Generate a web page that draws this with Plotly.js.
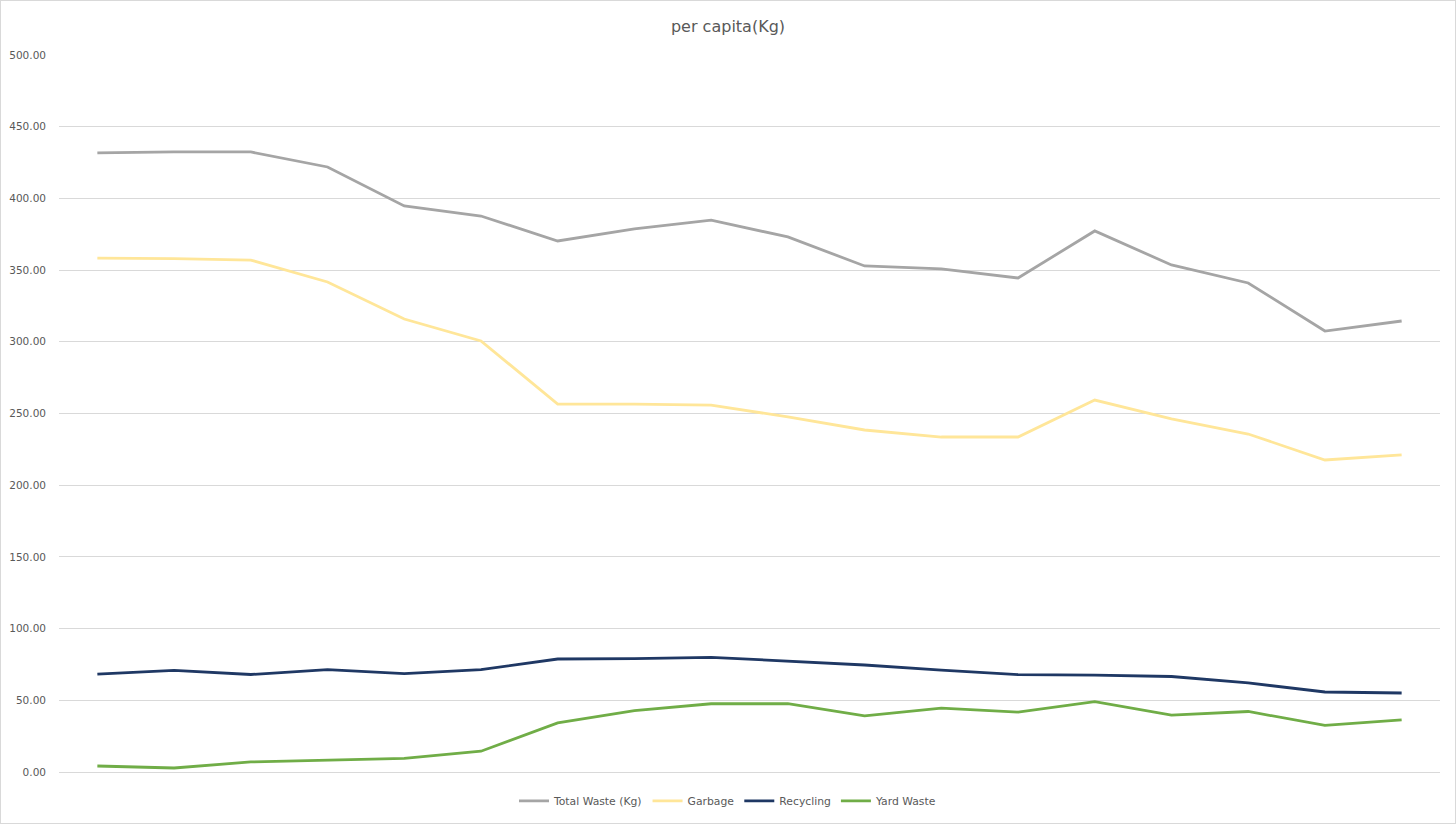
<!DOCTYPE html>
<html>
<head>
<meta charset="utf-8">
<script src="https://cdn.plot.ly/plotly-3.0.1.min.js"></script>
<style>
  html, body { margin: 0; padding: 0; background: #fff; }
  #chart { width: 1454px; height: 822px; border: 1px solid #d9d9d9; }
</style>
</head>
<body>
<div id="chart"></div>
<script>
// per capita waste, one value per period (no axis labels in the source)
const periods = [1, 2, 3, 4, 5, 6, 7, 8, 9, 10, 11, 12, 13, 14, 15, 16, 17, 18];
const totalWaste = [431.7, 432.4, 432.4, 421.9, 394.7, 387.7, 370.3, 378.7, 384.9, 373.1, 352.9, 350.8, 344.5, 377.3, 353.6, 341.0, 307.5, 314.5];
const garbage = [358.4, 358.0, 357.0, 341.7, 315.9, 300.6, 256.6, 256.6, 255.9, 247.6, 238.5, 233.6, 233.6, 259.4, 246.2, 235.7, 217.6, 221.1];
const recycling = [68.3, 70.8, 68.0, 71.4, 68.6, 71.4, 78.8, 79.0, 80.0, 77.4, 74.6, 71.1, 67.9, 67.6, 66.6, 62.1, 55.8, 55.1];
const yardWaste = [4.2, 2.8, 7.0, 8.0, 9.5, 14.5, 34.2, 42.8, 47.6, 47.6, 39.1, 44.6, 41.8, 49.1, 39.7, 42.2, 32.5, 36.3];

function line(name, ys, color) {
  return {
    x: periods,
    y: ys,
    name: name,
    type: "scatter",
    mode: "lines",
    line: { color: color, width: 2.8 },
  };
}

const data = [
  line("Total Waste (Kg)", totalWaste, "#a5a5a5"),
  line("Garbage", garbage, "#ffe699"),
  line("Recycling", recycling, "#1f3864"),
  line("Yard Waste", yardWaste, "#70ad47"),
];

const layout = {
  width: 1454,
  height: 822,
  paper_bgcolor: "#fff",
  plot_bgcolor: "#fff",
  font: { family: "DejaVu Sans, sans-serif", size: 10.5, color: "#595959" },
  margin: { l: 58, r: 15, t: 54, b: 51 },
  title: {
    text: "per capita(Kg)",
    font: { size: 16, color: "#595959" },
    x: 0.5,
    xanchor: "center",
    y: 0.969,
    yanchor: "middle",
  },
  xaxis: {
    range: [0.5, 18.5],
    showticklabels: false,
    showgrid: false,
    zeroline: false,
    showline: true,
    linecolor: "#d9d9d9",
    ticks: "",
    fixedrange: true,
  },
  yaxis: {
    range: [0, 500],
    dtick: 50,
    tickformat: ".2f",
    gridcolor: "#d9d9d9",
    zeroline: false,
    showline: false,
    ticks: "",
    ticklabelstandoff: 12,
  },
  showlegend: true,
  legend: {
    orientation: "h",
    x: 0.5,
    xanchor: "center",
    xref: "container",
    y: 0.027,
    yanchor: "middle",
    yref: "container",
    font: { size: 10.8, color: "#595959" },
  },
};

Plotly.newPlot("chart", data, layout, { displayModeBar: false, staticPlot: true });
</script>
</body>
</html>
